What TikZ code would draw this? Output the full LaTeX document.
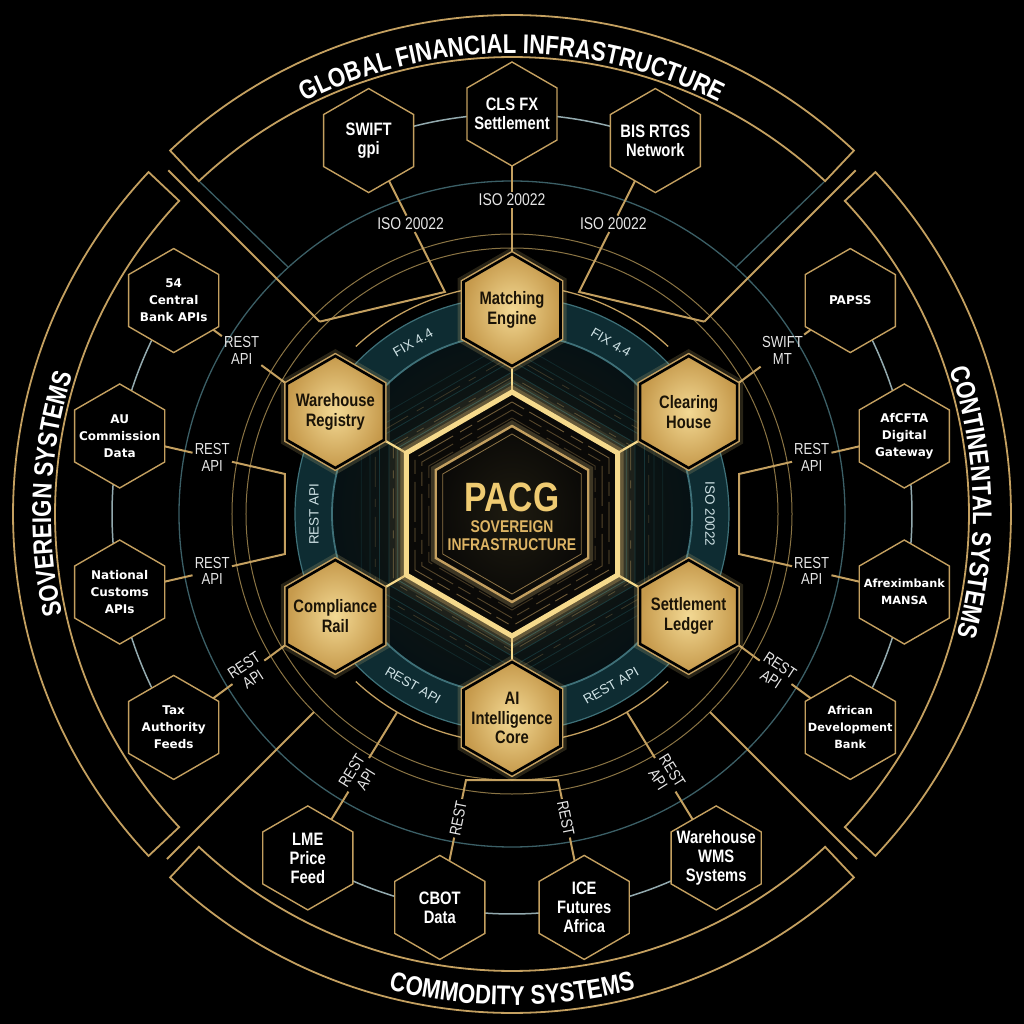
\documentclass[tikz,border=0pt]{standalone}
\usepackage{fontspec}
\setmainfont{Liberation Sans}
\newfontfamily\condf{Liberation Sans}[FakeStretch=0.82]
\newfontfamily\dvs{DejaVu Sans}
\usetikzlibrary{shapes.geometric,decorations.text,calc}
\definecolor{gline}{HTML}{C4A060}
\definecolor{gdim}{HTML}{8A7444}
\definecolor{gbright}{HTML}{F6DA8C}
\definecolor{gfillA}{HTML}{F3D994}
\definecolor{gfillB}{HTML}{C69A4C}
\definecolor{tealring}{HTML}{3B5F66}
\definecolor{chainc}{HTML}{93AAAF}
\definecolor{bandfill}{HTML}{0E2C32}
\definecolor{bandedge}{HTML}{3E7078}
\definecolor{labc}{HTML}{E6E6E6}
\definecolor{bandtxt}{HTML}{CFE2E5}
\definecolor{darktxt}{HTML}{1A1307}
\definecolor{coretxt}{HTML}{EFCB72}
\definecolor{coresub}{HTML}{DDB464}
\definecolor{corefill}{HTML}{0A0907}
\definecolor{coreglow}{HTML}{1E1B10}
\definecolor{coreout}{HTML}{061114}
\definecolor{traceT}{HTML}{2F8088}
\pgfdeclarelayer{bgl}
\pgfdeclarelayer{lines}
\pgfsetlayers{bgl,lines,main}
\tikzset{
  hexbase/.style={regular polygon, regular polygon sides=6, shape border rotate=30, inner sep=0pt, outer sep=0pt},
  ohex/.style={hexbase, minimum size=104pt, draw=gline, line width=1.4pt, fill=black},
  ghex/.style={hexbase, minimum size=112pt, draw=black, line width=2.6pt, inner color=gfillA, outer color=gfillB,
     preaction={draw=gbright, line width=12pt, opacity=.16}, preaction={draw=gline, line width=5.6pt}},
  corehex/.style={hexbase, minimum size=244pt, draw=gbright, line width=5pt, fill=corefill,
     preaction={draw=gbright, line width=34pt, opacity=.07}, preaction={draw=gbright, line width=22pt, opacity=.11},
     preaction={draw=gline, line width=12pt, opacity=.35}},
  corein/.style={hexbase, minimum size=176pt, draw=gline, line width=2.4pt, inner color=coreglow, outer color=corefill,
     preaction={draw=gbright, line width=10pt, opacity=.22}},
  gtxt/.style={font=\condf\bfseries\fontsize{18}{19.5}\selectfont, text=darktxt, align=center},
  otxtC/.style={font=\condf\bfseries\fontsize{18}{19}\selectfont, text=white, align=center},
  otxtD/.style={font=\dvs\bfseries\fontsize{12}{17}\selectfont, text=white, align=center},
  lab/.style={font=\condf\fontsize{17}{17}\selectfont, text=labc, align=center, inner sep=2pt},
  labs/.style={font=\condf\fontsize{16}{16.5}\selectfont, text=labc, align=center, inner sep=2pt},
  blab/.style={font=\fontsize{13.5}{14}\selectfont, text=bandtxt},
  conn/.style={draw=gline, line width=2pt},
  diag/.style={draw=gline, line width=1.8pt},
  brk/.style={draw=gline, line width=1.8pt},
  gring/.style={draw=gline, line width=1.3pt},
  chain/.style={draw=chainc, line width=1.5pt},
  link/.style={draw=gbright, line width=2.2pt},
  ttl/.style={decorate, decoration={text along path, text align=center,
     text={|\condf\bfseries\fontsize{27}{27}\selectfont\color{white}|#1}}}
}
\begin{document}
\begin{tikzpicture}[x=1pt,y=1pt]
\useasboundingbox (-512,-510) rectangle (512,514);
% coordinates
\coordinate (Jtl) at (106.8:232);
\coordinate (Jtr) at (73.2:232);
\coordinate (Dtl) at (135:272);
\coordinate (Dtr) at (45:272);
\coordinate (Otl) at (135:486);
\coordinate (Otr) at (45:486);
\coordinate (Dbl) at (225:280);
\coordinate (Dbr) at (315:280);
\coordinate (Obl) at (225:488);
\coordinate (Obr) at (315:488);
\coordinate (Jbl) at (239.9:229);
\coordinate (Jbr) at (300.1:229);
\coordinate (B1) at (-227,40);
\coordinate (B2) at (-227,-40);
\coordinate (B3) at (227,40);
\coordinate (B4) at (227,-40);
\coordinate (K1) at (-46,-266);
\coordinate (K2) at (46,-266);

\begin{pgfonlayer}{bgl}
\fill[black] (-512,-510) rectangle (512,514);
\shade[inner color=coreglow, outer color=coreout] (0,0) circle[radius=180];
% traces
\foreach \r/\o in {132/.45,142/.35,153/.3,164/.25,174/.2}{
  \draw[traceT, opacity=\o, line width=.8pt] (90:\r) -- (150:\r) -- (210:\r) -- (270:\r) -- (330:\r) -- (30:\r) -- cycle;}
\foreach \r/\o in {137/.35,158/.25}{
  \draw[gline, opacity=\o, line width=.8pt, dash pattern=on 30pt off 12pt on 8pt off 10pt] (90:\r) -- (150:\r) -- (210:\r) -- (270:\r) -- (330:\r) -- (30:\r) -- cycle;}
% band
\fill[bandfill, even odd rule] (0,0) circle[radius=217] (0,0) circle[radius=180];
\draw[bandedge, line width=1.2pt] (0,0) circle[radius=217];
\draw[bandedge, line width=1.8pt] (0,0) circle[radius=180];
% rings
\draw[gdim, line width=1pt] (0,0) circle[radius=266];
\draw[gdim, line width=1pt] (0,0) circle[radius=280];
\draw[tealring, line width=1.3pt] (0,0) circle[radius=333];
\draw[gring] (102:229) arc[start angle=102, end angle=133, radius=229];
\draw[gring] (78:229) arc[start angle=78, end angle=47, radius=229];
\draw[gring] (227:229) arc[start angle=227, end angle=258, radius=229];
\draw[gring] (282:229) arc[start angle=282, end angle=313, radius=229];
% brackets
\draw[brk] (46.75:457) arc[start angle=46.75, end angle=133.25, radius=457] -- (133.25:499) arc[start angle=133.25, end angle=46.75, radius=499] -- cycle;
\draw[brk] (136.75:457) arc[start angle=136.75, end angle=223.25, radius=457] -- (223.25:499) arc[start angle=223.25, end angle=136.75, radius=499] -- cycle;
\draw[brk] (226.75:457) arc[start angle=226.75, end angle=313.25, radius=457] -- (313.25:499) arc[start angle=313.25, end angle=226.75, radius=499] -- cycle;
\draw[brk] (316.75:457) arc[start angle=316.75, end angle=403.25, radius=457] -- (403.25:499) arc[start angle=403.25, end angle=316.75, radius=499] -- cycle;
% diagonals
\draw[diag] (Dtl) -- (Otl);
\draw[diag] (Dtr) -- (Otr);
\draw[diag] (Dbl) -- (Obl);
\draw[diag] (Dbr) -- (Obr);
\draw[tealring, line width=1.3pt] (-312,332) -- (-224,247);
\draw[tealring, line width=1.3pt] (312,332) -- (224,247);
% chains
\draw[chain] (111:400) arc[start angle=111, end angle=69, radius=400];
\draw[chain] (147.75:400) arc[start angle=147.75, end angle=212.25, radius=400];
\draw[chain] (-32.25:400) arc[start angle=-32.25, end angle=32.25, radius=400];
\draw[chain] (239.3:400) arc[start angle=239.3, end angle=300.7, radius=400];
\end{pgfonlayer}

% titles
\path[ttl={GLOBAL FINANCIAL INFRASTRUCTURE}] (133.25:461) arc[start angle=133.25, end angle=46.75, radius=461];
\path[ttl={SOVEREIGN SYSTEMS}] (221:461) arc[start angle=221, end angle=134, radius=461];
\path[ttl={CONTINENTAL SYSTEMS}] (44.75:461) arc[start angle=44.75, end angle=-41.75, radius=461];
\path[ttl={COMMODITY SYSTEMS}] (226.75:491) arc[start angle=226.75, end angle=313.25, radius=491];

% band labels
\node[blab, rotate=30] (b1) at (120:198) {FIX 4.4};
\node[blab, rotate=-30] (b2) at (60:198) {FIX 4.4};
\node[blab, rotate=90] (b3) at (180:198) {REST API};
\node[blab, rotate=-90] (b4) at (0:198) {ISO 20022};
\node[blab, rotate=-30] (b5) at (240:198) {REST API};
\node[blab, rotate=30] (b6) at (300:198) {REST API};

% core
\node[corehex] (core) at (0,0) {};
\foreach \r/\o in {112/.55,104/.4,96/.3}{
  \draw[gline, opacity=\o, line width=.9pt, dash pattern=on 40pt off 6pt on 14pt off 8pt] (90:\r) -- (150:\r) -- (210:\r) -- (270:\r) -- (330:\r) -- (30:\r) -- cycle;}
\node[corein] (corei) at (0,0) {};
\draw[gline, opacity=.7, line width=.8pt] (90:80) -- (150:80) -- (210:80) -- (270:80) -- (330:80) -- (30:80) -- cycle;
\node[font=\condf\bfseries\fontsize{41}{41}\selectfont, text=coretxt] (pacg) at (0,17) {PACG};
\node[font=\condf\bfseries\fontsize{17}{18}\selectfont, text=coresub, align=center] (pacgs) at (0,-22) {SOVEREIGN\\INFRASTRUCTURE};

% gold hexes
\node[ghex] (me) at (90:204) {};
\node[ghex] (wr) at (150:204) {};
\node[ghex] (ch) at (30:204) {};
\node[ghex] (cr) at (210:204) {};
\node[ghex] (sl) at (330:204) {};
\node[ghex] (ai) at (270:204) {};
\node[gtxt] (meT) at (me) {Matching\\Engine};
\node[gtxt] (wrT) at (wr) {Warehouse\\Registry};
\node[gtxt] (chT) at (ch) {Clearing\\House};
\node[gtxt] (crT) at (cr) {Compliance\\Rail};
\node[gtxt] (slT) at (sl) {Settlement\\Ledger};
\node[gtxt] (aiT) at (ai) {AI\\Intelligence\\Core};

% outer hexes
\node[ohex] (swift) at (111:400) {};
\node[ohex] (cls) at (90:400) {};
\node[ohex] (bis) at (69:400) {};
\node[ohex] (cbk) at (147.75:400) {};
\node[ohex] (auc) at (168.75:400) {};
\node[ohex] (ncu) at (191.25:400) {};
\node[ohex] (tax) at (212.25:400) {};
\node[ohex] (papss) at (32.25:400) {};
\node[ohex] (afc) at (11.25:400) {};
\node[ohex] (afx) at (-11.25:400) {};
\node[ohex] (afdb) at (-32.25:400) {};
\node[ohex] (lme) at (239.3:400) {};
\node[ohex] (cbot) at (259.6:400) {};
\node[ohex] (ice) at (280.4:400) {};
\node[ohex] (wms) at (300.7:400) {};
\node[otxtC] (swiftT) at (swift) {SWIFT\\gpi};
\node[otxtC] (clsT) at (cls) {CLS FX\\Settlement};
\node[otxtC] (bisT) at (bis) {BIS RTGS\\Network};
\node[otxtD] (cbkT) at (cbk) {54\\Central\\Bank APIs};
\node[otxtD] (aucT) at (auc) {AU\\Commission\\Data};
\node[otxtD] (ncuT) at (ncu) {National\\Customs\\APIs};
\node[otxtD] (taxT) at (tax) {Tax\\Authority\\Feeds};
\node[otxtD] (papssT) at (papss) {PAPSS};
\node[otxtD] (afcT) at (afc) {AfCFTA\\Digital\\Gateway};
\node[otxtD, font=\dvs\bfseries\fontsize{11.3}{17}\selectfont] (afxT) at (afx) {Afreximbank\\MANSA};
\node[otxtD, font=\dvs\bfseries\fontsize{11.3}{17}\selectfont] (afdbT) at (afdb) {African\\Development\\Bank};
\node[otxtC] (lmeT) at (lme) {LME\\Price\\Feed};
\node[otxtC] (cbotT) at (cbot) {CBOT\\Data};
\node[otxtC] (iceT) at (ice) {ICE\\Futures\\Africa};
\node[otxtC] (wmsT) at (wms) {Warehouse\\WMS\\Systems};

% connector labels
\node[lab] (swiftL) at ($(swift)!0.55!(Jtl)$) {ISO 20022};
\node[lab] (clsL) at (90:314) {ISO 20022};
\node[lab] (bisL) at ($(bis)!0.55!(Jtr)$) {ISO 20022};
\node[labs] (cbkL) at ($(cbk)!0.6!(wr.150)$) {REST\\API};
\node[labs] (aucL) at ($(auc)!0.56!(B1)$) {REST\\API};
\node[labs] (ncuL) at ($(ncu)!0.56!(B2)$) {REST\\API};
\node[labs, rotate=33] (taxL) at ($(tax)!0.66!(cr.210)$) {REST\\API};
\node[labs] (papssL) at ($(papss)!0.6!(ch.30)$) {SWIFT\\MT};
\node[labs] (afcL) at ($(afc)!0.56!(B3)$) {REST\\API};
\node[labs] (afxL) at ($(afx)!0.56!(B4)$) {REST\\API};
\node[labs, rotate=-33] (afdbL) at ($(afdb)!0.66!(sl.330)$) {REST\\API};
\node[labs, rotate=58] (lmeL) at ($(lme)!0.57!(Jbl)$) {REST\\API};
\node[labs, rotate=78.4] (cbotL) at ($(cbot)!0.7!(K1)$) {REST};
\node[labs, rotate=-78.4] (iceL) at ($(ice)!0.7!(K2)$) {REST};
\node[labs, rotate=-58] (wmsL) at ($(wms)!0.57!(Jbr)$) {REST\\API};

\begin{pgfonlayer}{lines}
% core links
\draw[link] (core) -- (me);
\draw[link] (core) -- (wr);
\draw[link] (core) -- (ch);
\draw[link] (core) -- (cr);
\draw[link] (core) -- (sl);
\draw[link] (core) -- (ai);
% top
\draw[conn] (swift) -- (swiftL) -- (Jtl) -- (Dtl);
\draw[conn] (cls) -- (clsL) -- (me);
\draw[conn] (bis) -- (bisL) -- (Jtr) -- (Dtr);
% left
\draw[conn] (cbk) -- (cbkL) -- (wr.150);
\draw[conn] (auc) -- (aucL) -- (B1) -- (B2) -- (ncuL) -- (ncu);
\draw[conn] (tax) -- (taxL) -- (cr.210);
% right
\draw[conn] (papss) -- (papssL) -- (ch.30);
\draw[conn] (afc) -- (afcL) -- (B3) -- (B4) -- (afxL) -- (afx);
\draw[conn] (afdb) -- (afdbL) -- (sl.330);
% bottom
\draw[conn] (lme) -- (lmeL) -- (Jbl);
\draw[conn] (cbot) -- (cbotL) -- (K1) -- (K2) -- (iceL) -- (ice);
\draw[conn] (wms) -- (wmsL) -- (Jbr);
\end{pgfonlayer}
\end{tikzpicture}
\end{document}
